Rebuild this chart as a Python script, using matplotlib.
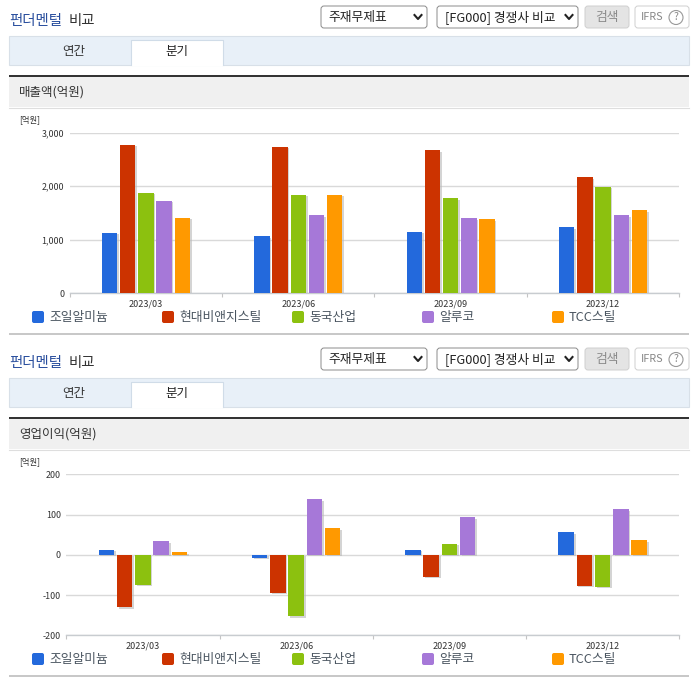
import matplotlib
matplotlib.use("Agg")
import matplotlib.pyplot as plt
import matplotlib.patheffects as pe
from matplotlib.patches import FancyBboxPatch, Rectangle, Circle
import numpy as np

plt.rcParams["font.family"] = ["Noto Sans CJK KR", "DejaVu Sans"]

W, H = 696, 684

quarters = ["2023/03", "2023/06", "2023/09", "2023/12"]
companies = ["조일알미늄", "현대비앤지스틸", "동국산업", "알루코", "TCC스틸"]
colors = ["#2369dc", "#cc3300", "#8cc10f", "#a678d8", "#ff9900"]

sales = {
    "조일알미늄": [1130, 1068, 1149, 1236],
    "현대비앤지스틸": [2770, 2733, 2671, 2168],
    "동국산업": [1876, 1839, 1776, 1988],
    "알루코": [1727, 1460, 1404, 1460],
    "TCC스틸": [1410, 1839, 1385, 1553],
}
profit = {
    "조일알미늄": [13, -7, 13, 56],
    "현대비앤지스틸": [-130, -94, -54, -77],
    "동국산업": [-74, -153, 28, -79],
    "알루코": [34, 138, 93, 113],
    "TCC스틸": [7, 66, 0, 36],
}
sales_ticks = [0, 1000, 2000, 3000]
profit_ticks = [-200, -100, 0, 100, 200]
legend_x = [32, 162, 292, 422, 552]

fig = plt.figure(figsize=(W / 100, H / 100), dpi=100, facecolor="white")
bg = fig.add_axes([0, 0, 1, 1])
bg.set_xlim(0, W)
bg.set_ylim(H, 0)
bg.axis("off")


def rounded(x0, y0, x1, y1, fc, ec, r=3, lw=0.9):
    bg.add_patch(FancyBboxPatch((x0 + r, y0 + r), x1 - x0 - 2 * r, y1 - y0 - 2 * r,
                                boxstyle="round,pad=%d,rounding_size=%d" % (r, r),
                                fc=fc, ec=ec, lw=lw))


def draw_header(dy, title):
    # top row: title, selects, buttons
    bg.text(9, 20.5 + dy, "펀더멘털", color="#2a4f9e", fontsize=10.4, va="center", weight="medium")
    bg.text(69, 20.5 + dy, "비교", color="#333333", fontsize=10.4, va="center", weight="medium")
    rounded(321, 6 + dy, 427, 28 + dy, "white", "#8a8a8a", lw=0.7)
    bg.text(328, 17 + dy, "주재무제표", color="#222222", fontsize=9.2, va="center")
    rounded(437, 6 + dy, 578, 28 + dy, "white", "#8a8a8a", lw=0.7)
    bg.text(445, 17 + dy, "[FG000] 경쟁사 비교", color="#222222", fontsize=9.2, va="center")
    for cx in (418, 569):
        bg.plot([cx - 3.5, cx, cx + 3.5], [15 + dy, 19 + dy, 15 + dy], color="#222222", lw=1.5)
    rounded(585, 6 + dy, 629, 28 + dy, "#e4e4e4", "#cfcfcf", lw=0.7)
    bg.text(607, 17 + dy, "검색", color="#8a8a8a", fontsize=9.2, va="center", ha="center")
    rounded(635, 6 + dy, 689, 28 + dy, "white", "#cfcfcf", lw=0.7)
    bg.text(641, 17 + dy, "IFRS", color="#888888", fontsize=7.8, va="center")
    bg.add_patch(Circle((676, 17.5 + dy), 7, fc="white", ec="#999999", lw=0.8))
    bg.text(676, 17 + dy, "?", color="#888888", fontsize=7.5, va="center", ha="center")

    # tab strip
    bg.add_patch(Rectangle((9, 36 + dy), 680, 28.5, fc="#e8f0f8", ec="#d8e0e8", lw=0.8))
    bg.add_patch(Rectangle((131, 40 + dy), 92, 26, fc="white", ec="none"))
    bg.plot([131, 131, 223, 223], [65 + dy, 40 + dy, 40 + dy, 65 + dy], color="#d0dce8", lw=0.8)
    bg.text(74, 51 + dy, "연간", color="#333333", fontsize=9, va="center", ha="center")
    bg.text(177, 51 + dy, "분기", color="#222222", fontsize=9, va="center", ha="center")

    # title strip
    bg.add_patch(Rectangle((9, 75 + dy), 680, 2.2, fc="#333333", ec="none"))
    bg.add_patch(Rectangle((9, 77.2 + dy), 680, 30, fc="#f0f0f0", ec="none"))
    bg.plot([9, 689], [107.5 + dy, 107.5 + dy], color="#dedede", lw=0.8)
    bg.text(19, 92 + dy, title, color="#333333", fontsize=9, va="center")
    bg.text(19, 120 + dy, "[억원]", color="#333333", fontsize=6, va="center")


def draw_legend(y):
    for name, c, x in zip(companies, colors, legend_x):
        bg.add_patch(FancyBboxPatch((x + 2, y - 4), 8, 8, boxstyle="round,pad=2,rounding_size=2",
                                    fc=c, ec="none"))
        bg.text(x + 17, y, name, color="#4a5560", fontsize=9.2, va="center")
    bg.add_patch(Rectangle((9, y + 15.7), 680, 2.2, fc="#c8c8c8", ec="none"))


def draw_chart(box, data, ticks, xpad):
    left, top, right, bottom = box
    ax = fig.add_axes([left / W, 1 - bottom / H, (right - left) / W, (bottom - top) / H])
    ax.patch.set_alpha(0)
    ax.set_xlim(0, len(quarters))
    ax.set_ylim(ticks[0], ticks[-1])
    pitch = 18.2 / 152.8
    width = 15.4 / 152.8
    shadow = [pe.SimplePatchShadow(offset=(1.2, -1.2), shadow_rgbFace="#b8b8b8", alpha=0.6), pe.Normal()]
    for j, name in enumerate(companies):
        xs = np.arange(len(quarters)) + 0.5 + (j - 2) * pitch
        bars = ax.bar(xs, data[name], width=width, color=colors[j], zorder=3)
        for b, v in zip(bars, data[name]):
            if v != 0:
                b.set_path_effects(shadow)
    ax.set_yticks(ticks)
    ax.set_yticklabels(["{:,}".format(v) for v in ticks], fontsize=6.4, color="#333333")
    ax.yaxis.grid(True, color="#d9d9d9", lw=1, zorder=0)
    ax.set_axisbelow(True)
    ax.tick_params(axis="y", length=0, pad=4)
    ax.set_xticks(range(len(quarters) + 1))
    ax.set_xticklabels([])
    ax.set_xticks(np.arange(len(quarters)) + 0.5, quarters, minor=True, fontsize=6.5, color="#333333")
    ax.tick_params(axis="x", which="major", length=3, color="#c4c4c4", width=0.8)
    ax.tick_params(axis="x", which="minor", length=0, pad=xpad)
    for side in ("top", "right", "left"):
        ax.spines[side].set_visible(False)
    ax.spines["bottom"].set_color("#c8ccd0")
    ax.spines["bottom"].set_linewidth(1)
    return ax


draw_header(0, "매출액(억원)")
draw_chart((69.7, 132.5, 679.3, 293.3), sales, sales_ticks, 4.5)
draw_legend(317)

draw_header(342, "영업이익(억원)")
draw_chart((66.3, 474.3, 679.3, 635.3), profit, profit_ticks, 4.5)
draw_legend(659)

fig.savefig("out.png", dpi=100)
